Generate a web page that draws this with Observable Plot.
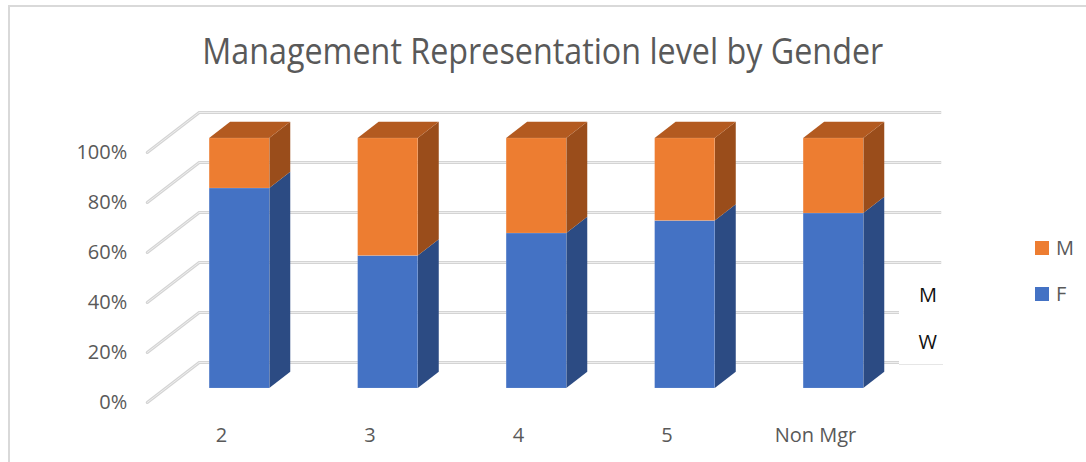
<!DOCTYPE html>
<html>
<head>
<meta charset="utf-8">
<script src="https://cdn.jsdelivr.net/npm/d3@7"></script>
<script src="https://cdn.jsdelivr.net/npm/@observablehq/plot@0.6"></script>
<style>
  html, body { margin: 0; padding: 0; background: #fff; }
  #wrap { position: relative; width: 1086px; height: 462px; overflow: hidden; font-family: "Open Sans", sans-serif; }
  #frame { position: absolute; left: 8px; top: 5px; width: 1100px; height: 500px; border-left: 2px solid #d9d9d9; border-top: 2px solid #d9d9d9; box-sizing: border-box; }
  #chart { position: absolute; left: 0; top: 0; }
  #title { position: absolute; left: 0; top: 32.5px; width: 1086px; text-align: center; font-size: 36px; line-height: 36px; color: #595959; white-space: nowrap; }
  #title span { display: inline-block; transform-origin: 50% 50%; }
  .leg { position: absolute; font-size: 20px; line-height: 20px; color: #595959; }
  .sw { position: absolute; width: 14px; height: 14px; }
  #tbox { position: absolute; left: 899px; top: 272px; width: 44px; height: 92px; background: #fff; border-bottom: 1px solid #e6e6e6; }
  .tb { position: absolute; right: 6px; font-size: 20px; line-height: 20px; color: #111; }
</style>
</head>
<body>
<div id="wrap">
  <div id="frame"></div>
  <div id="chart"></div>
  <div id="title"><span>Management Representation level by Gender</span></div>
  <div id="legend"></div>
  <div id="tbox"><div class="tb" style="top:12.5px">M</div><div class="tb" style="top:59.5px">W</div></div>
</div>
<script>
// ---- data ----
const categories = ["2", "3", "4", "5", "Non Mgr"];
const seriesNames = ["F", "M"];
const femaleShare = [0.80, 0.53, 0.62, 0.67, 0.70];
const maleShare = [0.20, 0.47, 0.38, 0.33, 0.30];
const yTicks = [0, 0.2, 0.4, 0.6, 0.8, 1.0];
const yTickLabels = ["0%", "20%", "40%", "60%", "80%", "100%"];

// ---- styling / 3D projection constants ----
const frontColor = {F: "#4472C4", M: "#ED7D31"};
const sideColor = {F: "#2C4B83", M: "#9A4D1B"};
const topColor = {M: "#B35A20", F: "#3A62A8"};
const DX = 0.35;   // x-units of depth offset per full floor depth
const DY = 0.16;   // y-units of depth offset per full floor depth
const W = 0.405;   // bar width in category units
const D0 = 0.35, D1 = 0.754; // bar front / back depth

// segments
const segs = [];
categories.forEach((c, i) => {
  const vals = [femaleShare[i], maleShare[i]];
  let acc = 0;
  seriesNames.forEach((s, k) => {
    segs.push({i, s, v0: acc, v1: acc + vals[k], key: c + s, isTop: k === seriesNames.length - 1});
    acc += vals[k];
  });
});
const sidePts = segs.flatMap(d => [D0, D1].map(dp => ({...d, dp})));
const topPts = segs.filter(d => d.isTop).flatMap(d => [D0, D1].map(dp => ({...d, dp})));

const grid = "#d4d4d4", gridHi = "#eeeeee";
const marks = [];
// back wall gridlines + left floor diagonals (double-line look)
for (const [stroke, sw] of [[grid, 3], [gridHi, 1]]) {
  marks.push(Plot.ruleY(yTicks, {y: t => t + DY, x1: () => -0.5 + DX, x2: () => categories.length - 0.5 + DX, stroke, strokeWidth: sw}));
  marks.push(Plot.link(yTicks, {x1: () => -0.5, y1: t => t, x2: () => -0.5 + DX, y2: t => t + DY, stroke, strokeWidth: sw, strokeLinecap: "round"}));
}
for (const s of seriesNames) {
  const f = d => d.s === s;
  marks.push(Plot.areaY(sidePts.filter(f), {
    x: p => p.i + W / 2 + DX * p.dp, y1: p => p.v0 + DY * p.dp, y2: p => p.v1 + DY * p.dp,
    z: p => p.key, fill: sideColor[s], curve: "linear"
  }));
  marks.push(Plot.areaX(topPts.filter(f), {
    y: p => p.v1 + DY * p.dp, x1: p => p.i - W / 2 + DX * p.dp, x2: p => p.i + W / 2 + DX * p.dp,
    z: p => p.key, fill: topColor[s], curve: "linear"
  }));
  marks.push(Plot.rect(segs.filter(f), {
    x1: d => d.i - W / 2 + DX * D0, x2: d => d.i + W / 2 + DX * D0,
    y1: d => d.v0 + DY * D0, y2: d => d.v1 + DY * D0,
    fill: frontColor[s], stroke: "#ffffff", strokeOpacity: 0.25, strokeWidth: 0.5
  }));
}
// axis labels
marks.push(Plot.text(yTicks, {x: () => -0.5, y: t => t, text: (t, k) => yTickLabels[k], dx: -20, textAnchor: "end", fontSize: 20, fill: "#595959"}));
marks.push(Plot.text(categories, {x: (c, k) => k, y: () => 0, dy: 33, text: c => c, fontSize: 20, fill: "#595959"}));

const chart = Plot.plot({
  width: 1086, height: 462,
  margin: 0,
  style: {fontFamily: "Open Sans", background: "transparent", overflow: "visible"},
  x: {type: "linear", domain: [-0.5, categories.length - 0.5], range: [146.75, 889.25], axis: null},
  y: {type: "linear", domain: [0, 1], range: [402, 152], axis: null},
  marks
});
document.getElementById("chart").appendChild(chart);

// legend (M on top, F below)
const legend = document.getElementById("legend");
[["M", 241], ["F", 287]].forEach(([s, top]) => {
  const sw = document.createElement("div");
  sw.className = "sw"; sw.style.left = "1035px"; sw.style.top = top + "px"; sw.style.background = frontColor[s];
  legend.appendChild(sw);
  const t = document.createElement("div");
  t.className = "leg"; t.style.left = "1056px"; t.style.top = (top - 3.5) + "px"; t.textContent = s;
  legend.appendChild(t);
});

// fit title width to reference (~681px)
const span = document.querySelector("#title span");
const w = span.getBoundingClientRect().width;
span.style.transform = `scaleX(${681 / w})`;
</script>
</body>
</html>
